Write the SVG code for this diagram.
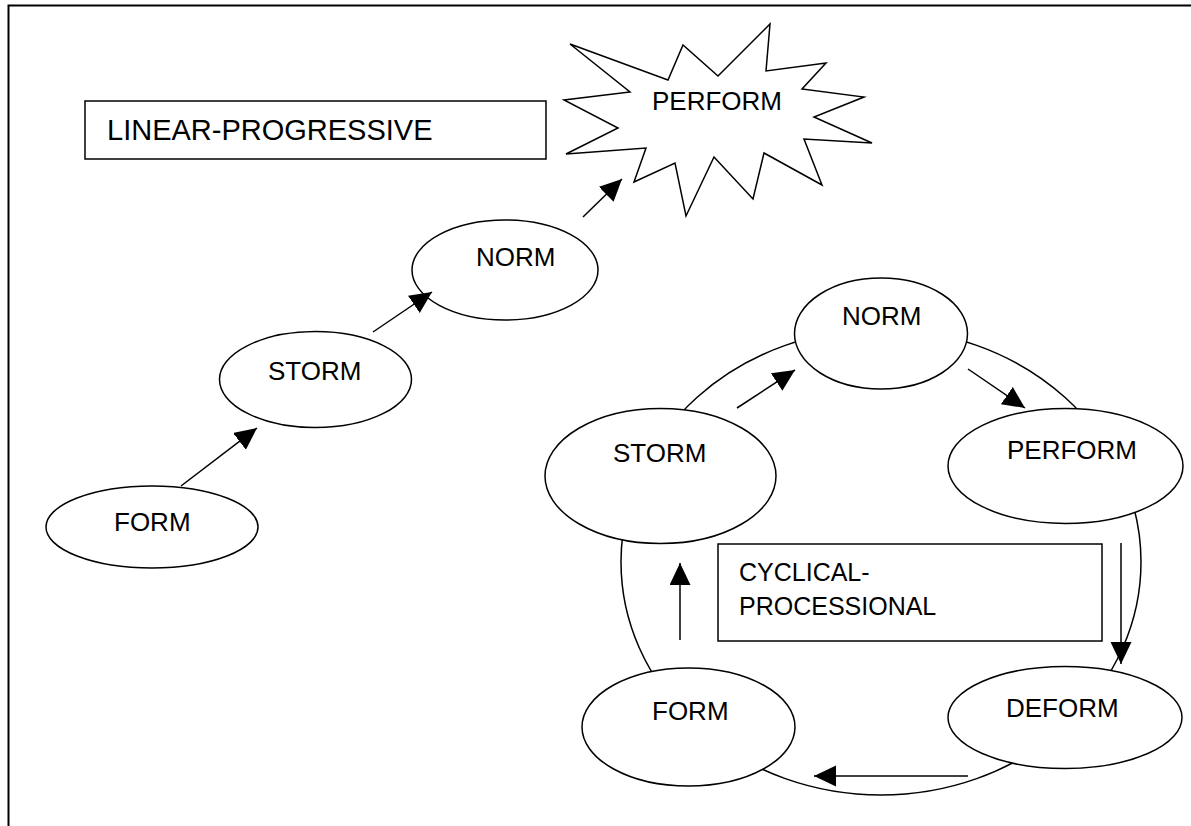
<svg xmlns="http://www.w3.org/2000/svg" width="1191" height="826" viewBox="0 0 1191 826">
<style>
.sh{fill:#fff;stroke:#000;stroke-width:1.5}
.t{font-family:"Liberation Sans",Arial,sans-serif;font-size:26px;fill:#000}
.c{stroke:#000;stroke-width:1.5;fill:none}
</style>
<defs>
<marker id="ah" markerUnits="userSpaceOnUse" markerWidth="24" markerHeight="22" refX="22" refY="10.5" orient="auto">
<path d="M0,0 L22,10.5 L0,21 z" fill="#000"/>
</marker>
</defs>
<rect width="1191" height="826" fill="#fff"/>
<path d="M8.5,826 V5.5 H1191" fill="none" stroke="#000" stroke-width="2"/>
<g id="cycle-ring"><ellipse cx="881" cy="562" rx="260" ry="233" class="c"/></g>
<g id="linear-label"><rect x="85" y="101" width="461" height="58" class="sh"/><text x="107" y="140" class="t" style="font-size:29px">LINEAR-PROGRESSIVE</text></g>
<g id="l-perform"><polygon class="sh" points="570,44 668,80 683,45 718,76 770,24 766,71 826,63 802,89 864,97 814,117 872,143 804,139 822,185 764,153 753,199 714,157 686,216 675,163 634,182 646,148 566,154 618,128 564,100 630,92"/><text x="652" y="110" class="t">PERFORM</text></g>
<g id="l-norm"><ellipse cx="505" cy="270" rx="93" ry="50" class="sh"/><text x="476" y="266" class="t">NORM</text></g>
<g id="l-storm"><ellipse cx="315.5" cy="379.5" rx="96" ry="48" class="sh"/><text x="268" y="380" class="t">STORM</text></g>
<g id="l-form"><ellipse cx="152" cy="527" rx="106" ry="41" class="sh"/><text x="114" y="531" class="t">FORM</text></g>
<g id="c-norm"><ellipse cx="881" cy="333.5" rx="86.5" ry="55.5" class="sh"/><text x="842" y="325" class="t">NORM</text></g>
<g id="c-storm"><ellipse cx="660.5" cy="476" rx="115.5" ry="67.5" class="sh"/><text x="613" y="462" class="t">STORM</text></g>
<g id="c-perform"><ellipse cx="1065.5" cy="466" rx="117.5" ry="57.5" class="sh"/><text x="1007" y="459" class="t">PERFORM</text></g>
<g id="c-deform"><ellipse cx="1065" cy="717.5" rx="117" ry="51" class="sh"/><text x="1006" y="717" class="t">DEFORM</text></g>
<g id="c-form"><ellipse cx="688.5" cy="727" rx="106.5" ry="59" class="sh"/><text x="652" y="720" class="t">FORM</text></g>
<g id="cyclical-label"><rect x="718" y="544" width="384" height="97" class="sh"/><text x="739" y="581" class="t" style="font-size:25px">CYCLICAL-</text><text x="739" y="615" class="t" style="font-size:25px">PROCESSIONAL</text></g>
<g id="connectors">
<line x1="181" y1="486" x2="257" y2="428" class="c" marker-end="url(#ah)"/>
<line x1="373" y1="332" x2="432" y2="292" class="c" marker-end="url(#ah)"/>
<line x1="583" y1="217" x2="622" y2="179" class="c" marker-end="url(#ah)"/>
<line x1="737" y1="408" x2="795" y2="370" class="c" marker-end="url(#ah)"/>
<line x1="968" y1="369" x2="1025" y2="408" class="c" marker-end="url(#ah)"/>
<line x1="1121" y1="543" x2="1121" y2="664" class="c" marker-end="url(#ah)"/>
<line x1="968" y1="776" x2="814" y2="776" class="c" marker-end="url(#ah)"/>
<line x1="680" y1="640" x2="680" y2="563" class="c" marker-end="url(#ah)"/>
</g>
</svg>
